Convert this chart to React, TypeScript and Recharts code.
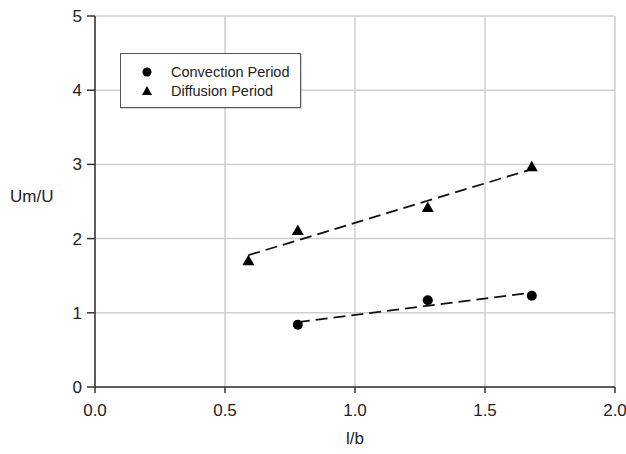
import React from 'react';
import { ScatterChart, Scatter, XAxis, YAxis, CartesianGrid, Legend } from 'recharts';

// values
const convectionX = [0.78, 1.28, 1.68];
const convectionY = [0.84, 1.17, 1.23];
const diffusionX = [0.59, 0.78, 1.28, 1.68];
const diffusionY = [1.70, 2.11, 2.42, 2.97];

const xTicks = [0, 0.5, 1.0, 1.5, 2.0];
const yTicks = [0, 1, 2, 3, 4, 5];

const seriesNames = ['Convection Period', 'Diffusion Period'];

const convectionData = convectionX.map((x, i) => ({ x, y: convectionY[i] }));
const diffusionData = diffusionX.map((x, i) => ({ x, y: diffusionY[i] }));

const FONT = '"Liberation Sans", Arial, sans-serif';
const INK = '#111';

const DotShape = (p: any) => <circle cx={p.cx} cy={p.cy} r={5} fill="#000" />;

const TriShape = (p: any) => (
  <path
    d={`M${p.cx},${p.cy - 6}L${p.cx + 6},${p.cy + 4.5}L${p.cx - 6},${p.cy + 4.5}Z`}
    fill="#000"
  />
);

// legend box drawn in the upper left of the plot
const LegendBox = () => (
  <div
    style={{
      width: 181,
      height: 55,
      border: '1px solid #555',
      background: '#fff',
      boxShadow: '1px 1px 1px rgba(0,0,0,0.15)',
      fontFamily: FONT,
      fontSize: 14.5,
      color: '#222',
      boxSizing: 'border-box',
      paddingTop: 9,
    }}
  >
    {seriesNames.map((name, i) => (
      <div key={name} style={{ display: 'flex', alignItems: 'center', height: 18.5 }}>
        <svg width={50} height={14}>
          {i === 0 ? (
            <circle cx={26} cy={7} r={4.5} fill="#000" />
          ) : (
            <path d="M26,2L31,11L21,11Z" fill="#000" />
          )}
        </svg>
        <span>{name}</span>
      </div>
    ))}
  </div>
);

export default function App() {
  return (
    <div style={{ position: 'absolute', left: 0, top: 0, background: '#fff' }}>
      <ScatterChart
        width={626}
        height={454}
        margin={{ top: 16, right: 11, left: 0, bottom: 0 }}
      >
        <CartesianGrid stroke="#cfcfcf" strokeWidth={1.5} />
        <XAxis
          type="number"
          dataKey="x"
          domain={[0, 2]}
          ticks={xTicks}
          tickFormatter={(v: number) => v.toFixed(1)}
          height={67}
          stroke="#333"
          strokeWidth={1.5}
          tickSize={6}
          tickMargin={11}
          tick={{ fontSize: 17, fill: '#222', fontFamily: FONT }}
          label={{ value: 'l/b', position: 'insideBottom', offset: 10, fontSize: 17, fill: '#222', fontFamily: FONT }}
        />
        <YAxis
          type="number"
          dataKey="y"
          domain={[0, 5]}
          ticks={yTicks}
          width={95}
          stroke="#333"
          strokeWidth={1.5}
          tickSize={8}
          tickMargin={5}
          tick={{ fontSize: 17, fill: '#222', fontFamily: FONT }}
          label={{ value: 'Um/U', position: 'insideLeft', offset: 10, dy: -6, fontSize: 17, fill: '#222', fontFamily: FONT }}
        />
        <Legend
          layout="horizontal"
          verticalAlign="middle"
          align="center"
          wrapperStyle={{ left: 120, top: 53, width: 182, height: 55 }}
          content={() => <LegendBox />}
        />
        <Scatter
          name={seriesNames[0]}
          data={convectionData}
          shape={DotShape}
          line={{ stroke: INK, strokeWidth: 1.8, strokeDasharray: '12 6' }}
          lineType="fitting"
          isAnimationActive={false}
        />
        <Scatter
          name={seriesNames[1]}
          data={diffusionData}
          shape={TriShape}
          line={{ stroke: INK, strokeWidth: 1.8, strokeDasharray: '12 6' }}
          lineType="fitting"
          isAnimationActive={false}
        />
      </ScatterChart>
    </div>
  );
}
